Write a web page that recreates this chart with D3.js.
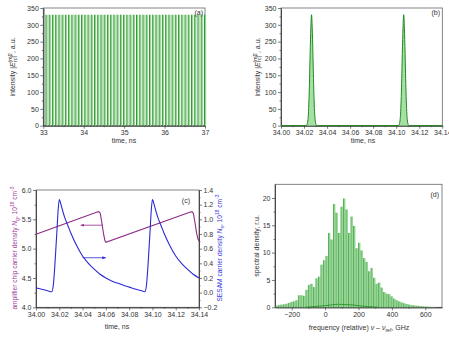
<!DOCTYPE html>
<html>
<head>
<meta charset="utf-8">
<script src="https://cdn.jsdelivr.net/npm/d3@7"></script>
<style>
  body { margin: 0; background: #fff; }
  svg text { font-family: "Liberation Sans", Arial, Helvetica, sans-serif; }
</style>
</head>
<body>
<svg width="449" height="337"></svg>
<script>
// (a) pulse train, peak times in ns
var trainTimes = [33.066, 33.146, 33.226, 33.306, 33.386, 33.466, 33.546, 33.626, 33.706, 33.786,
    33.866, 33.946, 34.026, 34.106, 34.186, 34.266, 34.346, 34.426, 34.506, 34.586,
    34.666, 34.746, 34.826, 34.906, 34.986, 35.066, 35.146, 35.226, 35.306, 35.386,
    35.466, 35.546, 35.626, 35.706, 35.786, 35.866, 35.946, 36.026, 36.106, 36.186,
    36.266, 36.346, 36.426, 36.506, 36.586, 36.666, 36.746, 36.826, 36.906, 36.986];
var trainPeak = 330;

// (b) two pulses, profile (offset in ns, intensity)
var zoomPulseTimes = [34.0265, 34.1065];
var pulseOffsets = [-0.005, -0.004, -0.003, -0.002, -0.0012, -0.0006, 0, 0.0006, 0.0012, 0.002, 0.003, 0.004, 0.005];
var pulseShape = [0, 3, 22, 100, 215, 290, 330, 290, 215, 100, 22, 3, 0];

// (c) carrier densities
var gainT = [34.000, 34.052, 34.054, 34.0552, 34.0565, 34.058, 34.0592, 34.060,
    34.132, 34.134, 34.1352, 34.1365, 34.138, 34.1392, 34.140];
var gainN = [5.245, 5.62, 5.63, 5.60, 5.45, 5.25, 5.14, 5.11,
    5.62, 5.63, 5.60, 5.45, 5.26, 5.16, 5.13];
var sesamT = [34.000, 34.005, 34.010, 34.0135, 34.015, 34.0165, 34.018, 34.019, 34.020, 34.0215,
    34.023, 34.025, 34.0275, 34.030, 34.035, 34.040, 34.045, 34.050, 34.055, 34.060,
    34.065, 34.070, 34.075, 34.080, 34.085, 34.090, 34.0935, 34.095, 34.0965, 34.098,
    34.099, 34.100, 34.1015, 34.103, 34.105, 34.1075, 34.110, 34.115, 34.120, 34.125,
    34.130, 34.135, 34.140];
var sesamN = [0.065, 0.045, 0.025, 0.012, 0.12, 0.45, 0.85, 1.12, 1.27, 1.2,
    1.11, 1.01, 0.91, 0.81, 0.64, 0.50, 0.40, 0.32, 0.25, 0.20,
    0.16, 0.13, 0.10, 0.075, 0.05, 0.03, 0.012, 0.12, 0.45, 0.85,
    1.12, 1.27, 1.2, 1.11, 1.01, 0.91, 0.81, 0.64, 0.50, 0.40,
    0.32, 0.25, 0.20];
// arrows: [t start, t end, value]
var gainArrow = [34.0575, 34.0385, 5.40];
var sesamArrow = [34.040, 34.060, 0.476];

// (d) spectrum lines
var specFreq = [-290, -275, -260, -245, -230, -215, -200, -185, -170, -155, -140, -125, -110, -95, -80, -65,
    -50, -35, -20, -5, 10, 25, 40, 55, 70, 85, 100, 115, 130, 145, 160, 175,
    190, 205, 220, 235, 250, 265, 280, 295, 310, 325, 340, 355, 370, 385, 400, 415,
    430, 445, 460, 475, 490, 505, 520, 535, 550, 565, 580, 595, 610, 625, 640, 655];
var specVal = [0.3, 0.4, 0.5, 0.55, 0.65, 0.8, 1.0, 1.1, 1.3, 2.2, 2.2, 2.1, 3.2, 4.1, 4.3, 3.7,
    5.3, 5.6, 7.8, 8.6, 9.4, 13.6, 12.4, 18.9, 17.3, 13.6, 18.4, 19.9, 17.9, 13.6, 16.6, 14.9,
    10.8, 11.8, 10.4, 9.0, 8.3, 6.6, 7.2, 5.4, 4.3, 4.5, 3.6, 2.8, 2.5, 2.4, 2.0, 1.6,
    1.3, 1.1, 0.9, 0.75, 0.6, 0.5, 0.4, 0.35, 0.3, 0.25, 0.2, 0.16, 0.12, 0.09, 0.06, 0.04];
var weakFreq = [-120, -60, 0, 40, 80, 120, 160, 200, 260, 320];
var weakVal = [0.0, 0.15, 0.3, 0.45, 0.55, 0.5, 0.45, 0.3, 0.12, 0.0];

var svg = d3.select("svg");
var dark = "#1f8a1f", light = "#8fd88f";
var purple = "#8e2a86", blue = "#2b2bd4";

function rich(sel, parts) {
    // parts: [text, kind] kind = undefined | 'i' | 'sup' | 'sub'
    var shift = 0;
    parts.forEach(function(p) {
        var t = sel.append('tspan').text(p[0]);
        var want = p[1] === 'sup' ? -2.6 : p[1] === 'sub' ? 1.6 : 0;
        if (want !== shift) t.attr('dy', want - shift);
        shift = want;
        if (p[1] === 'sup' || p[1] === 'sub') t.attr('font-size', 5);
        if (p[1] === 'i') t.style('font-style', 'italic');
        if (p[2]) t.attr('dx', p[2]);
    });
    return sel;
}

function frame(x, y, xTicks, xMinor, yTicks, yMinor, xFmt, yFmt) {
    var g = svg.append('g');
    var x0 = x.range()[0], x1 = x.range()[1], y0 = y.range()[0], y1 = y.range()[1];
    g.append('rect')
        .attr('x', x0).attr('y', y1)
        .attr('width', x1 - x0).attr('height', y0 - y1)
        .attr('fill', 'none').attr('stroke', '#666').attr('stroke-width', 0.8);
    g.append('g').attr('transform', 'translate(0,' + y0 + ')')
        .call(d3.axisBottom(x).tickValues(xTicks).tickSize(3).tickSizeOuter(0).tickPadding(1.5).tickFormat(xFmt));
    g.append('g').attr('transform', 'translate(0,' + y0 + ')')
        .call(d3.axisBottom(x).tickValues(xMinor).tickSize(1.5).tickSizeOuter(0).tickFormat(''));
    g.append('g').attr('transform', 'translate(' + x0 + ',0)')
        .call(d3.axisLeft(y).tickValues(yTicks).tickSize(3).tickSizeOuter(0).tickPadding(1.5).tickFormat(yFmt));
    g.append('g').attr('transform', 'translate(' + x0 + ',0)')
        .call(d3.axisLeft(y).tickValues(yMinor).tickSize(1.5).tickSizeOuter(0).tickFormat(''));
    g.selectAll('.domain').attr('stroke', '#444').attr('stroke-width', 0.8);
    g.selectAll('.tick line').attr('stroke', '#444').attr('stroke-width', 0.7);
    g.selectAll('.tick text').attr('font-size', 7).attr('fill', '#333')
        .attr('font-family', '"Liberation Sans", Arial, sans-serif');
    return g;
}

function panelText(x, y, str, anchor) {
    return svg.append('text').attr('x', x).attr('y', y)
        .attr('text-anchor', anchor || 'middle')
        .attr('font-size', 7).attr('fill', '#333').text(str);
}

function intensityLabel(x, y) {
    var t = svg.append('text').attr('transform', 'translate(' + x + ',' + y + ') rotate(-90)')
        .attr('text-anchor', 'middle').attr('font-size', 7).attr('fill', '#333');
    rich(t, [['intensity |'], ['E', 'i'], ['(m)', 'sup'], ['rc', 'sub', -7], ['|'], ['2', 'sup'], [', a.u.']]);
}

// ---------- (a)
var xa = d3.scaleLinear().domain([33, 37]).range([43.3, 205]);
var ya = d3.scaleLinear().domain([0, 350]).range([125.7, 8]);
frame(xa, ya, [33, 34, 35, 36, 37], [33.5, 34.5, 35.5, 36.5],
    d3.range(0, 351, 50), d3.range(25, 350, 50), d3.format('d'), d3.format('d'));
svg.append('g').selectAll('rect').data(trainTimes).enter().append('rect')
    .attr('x', function(d) { return xa(d) + 0.5; })
    .attr('y', ya(trainPeak))
    .attr('width', 1.2)
    .attr('height', ya(0) - ya(trainPeak))
    .attr('fill', light);
svg.append('g').selectAll('line').data(trainTimes).enter().append('line')
    .attr('x1', function(d) { return xa(d); }).attr('x2', function(d) { return xa(d); })
    .attr('y1', ya(0)).attr('y2', ya(trainPeak))
    .attr('stroke', dark).attr('stroke-width', 0.9);
panelText(203, 15, '(a)', 'end');
panelText(124, 143, 'time, ns');
intensityLabel(15, 67);

// ---------- (b)
var xb = d3.scaleLinear().domain([34.0, 34.14]).range([281, 442.3]);
var yb = d3.scaleLinear().domain([0, 350]).range([125.7, 8]);
frame(xb, yb, d3.range(0, 8).map(function(i) { return 34 + i * 0.02; }),
    d3.range(0, 7).map(function(i) { return 34.01 + i * 0.02; }),
    d3.range(0, 351, 50), d3.range(25, 350, 50), d3.format('.2f'), d3.format('d'));
var bPts = [[34.0, 0]];
zoomPulseTimes.forEach(function(c) {
    pulseOffsets.forEach(function(o, i) { bPts.push([c + o, pulseShape[i]]); });
});
bPts.push([34.14, 0]);
svg.append('path').datum(bPts)
    .attr('fill', light).attr('fill-opacity', 0.8)
    .attr('stroke', dark).attr('stroke-width', 1)
    .attr('d', d3.line().x(function(d) { return xb(d[0]); }).y(function(d) { return yb(d[1]); })
        .curve(d3.curveMonotoneX));
panelText(440, 15, '(b)', 'end');
panelText(363, 143, 'time, ns');
intensityLabel(259.5, 67);

// ---------- (c)
var xc = d3.scaleLinear().domain([34.0, 34.14]).range([36, 199]);
var ycL = d3.scaleLinear().domain([4.0, 6.0]).range([307.3, 190]);
var ycR = d3.scaleLinear().domain([-0.2, 1.4]).range([307.3, 190]);
var gc = frame(xc, ycL, d3.range(0, 8).map(function(i) { return 34 + i * 0.02; }),
    d3.range(0, 7).map(function(i) { return 34.01 + i * 0.02; }),
    [4.0, 4.5, 5.0, 5.5, 6.0], [4.25, 4.75, 5.25, 5.75], d3.format('.2f'), d3.format('.1f'));
gc.append('g').attr('transform', 'translate(199,0)')
    .call(d3.axisRight(ycR).tickValues([-0.2, 0, 0.2, 0.4, 0.6, 0.8, 1.0, 1.2, 1.4]).tickSize(3).tickSizeOuter(0).tickPadding(1.5)
        .tickFormat(d3.format('.1f')));
gc.append('g').attr('transform', 'translate(199,0)')
    .call(d3.axisRight(ycR).tickValues([-0.1, 0.1, 0.3, 0.5, 0.7, 0.9, 1.1, 1.3]).tickSize(1.5).tickSizeOuter(0).tickFormat(''));
gc.selectAll('.domain').attr('stroke', '#444').attr('stroke-width', 0.8);
gc.selectAll('.tick line').attr('stroke', '#444').attr('stroke-width', 0.7);
gc.selectAll('.tick text').attr('font-size', 7).attr('fill', '#333');

svg.append('path').datum(d3.zip(gainT, gainN))
    .attr('fill', 'none').attr('stroke', purple).attr('stroke-width', 1.1)
    .attr('d', d3.line().x(function(d) { return xc(d[0]); }).y(function(d) { return ycL(d[1]); }));
svg.append('path').datum(d3.zip(sesamT, sesamN))
    .attr('fill', 'none').attr('stroke', blue).attr('stroke-width', 1.1)
    .attr('d', d3.line().x(function(d) { return xc(d[0]); }).y(function(d) { return ycR(d[1]); }).curve(d3.curveMonotoneX));

var defs = svg.append('defs');
[['ahP', purple], ['ahB', blue]].forEach(function(m) {
    defs.append('marker').attr('id', m[0]).attr('viewBox', '0 0 10 10').attr('refX', 9).attr('refY', 5)
        .attr('markerWidth', 5).attr('markerHeight', 5).attr('orient', 'auto')
        .append('path').attr('d', 'M0,1.5L10,5L0,8.5Z').attr('fill', m[1]);
});
svg.append('line')
    .attr('x1', xc(gainArrow[0])).attr('x2', xc(gainArrow[1]))
    .attr('y1', ycL(gainArrow[2])).attr('y2', ycL(gainArrow[2]))
    .attr('stroke', purple).attr('stroke-width', 0.8).attr('marker-end', 'url(#ahP)');
svg.append('line')
    .attr('x1', xc(sesamArrow[0])).attr('x2', xc(sesamArrow[1]))
    .attr('y1', ycR(sesamArrow[2])).attr('y2', ycR(sesamArrow[2]))
    .attr('stroke', blue).attr('stroke-width', 0.8).attr('marker-end', 'url(#ahB)');
panelText(190, 202.5, '(c)', 'end');
panelText(117, 329, 'time, ns');
var lc = svg.append('text').attr('transform', 'translate(17,248) rotate(-90)')
    .attr('text-anchor', 'middle').attr('font-size', 6.6).attr('fill', '#a040a0');
rich(lc, [['amplifier chip carrier density '], ['N', 'i'], ['g', 'sub'], [', 10'], ['18', 'sup'], [' cm'], ['-3', 'sup']]);
var rc = svg.append('text').attr('transform', 'translate(222,248) rotate(-90)')
    .attr('text-anchor', 'middle').attr('font-size', 6.6).attr('fill', '#3636e0');
rich(rc, [['SESAM carrier density '], ['N', 'i'], ['s', 'sub'], [', 10'], ['18', 'sup'], [' cm'], ['-3', 'sup']]);

// ---------- (d)
var xd = d3.scaleLinear().domain([-300, 700]).range([275, 442]);
var yd = d3.scaleLinear().domain([0, 22.5]).range([307.3, 184.3]);
frame(xd, yd, [-200, 0, 200, 400, 600], [-100, 100, 300, 500],
    [0, 5, 10, 15, 20], [2.5, 7.5, 12.5, 17.5], d3.format('d'), d3.format('d'));
svg.append('g').selectAll('rect').data(specFreq).enter().append('rect')
    .attr('x', function(d) { return xd(d) - 0.5; })
    .attr('y', function(d, i) { return yd(specVal[i]); })
    .attr('width', 1.6)
    .attr('height', function(d, i) { return yd(0) - yd(specVal[i]); })
    .attr('fill', light);
svg.append('g').selectAll('line').data(specFreq).enter().append('line')
    .attr('x1', function(d) { return xd(d) - 0.8; }).attr('x2', function(d) { return xd(d) - 0.8; })
    .attr('y1', yd(0)).attr('y2', function(d, i) { return yd(specVal[i]); })
    .attr('stroke', dark).attr('stroke-width', 0.7);
svg.append('path').datum(d3.zip(weakFreq, weakVal))
    .attr('fill', 'none').attr('stroke', dark).attr('stroke-width', 0.8)
    .attr('d', d3.line().x(function(d) { return xd(d[0]); }).y(function(d) { return yd(d[1]); }).curve(d3.curveMonotoneX));
panelText(439, 196.5, '(d)', 'end');
var xl = svg.append('text').attr('x', 359).attr('y', 330).attr('text-anchor', 'middle')
    .attr('font-size', 7).attr('fill', '#333');
rich(xl, [['frequency (relative) '], ['\u03bd', 'i'], [' \u2013 '], ['\u03bd', 'i'], ['ref', 'sub'], [', GHz']]);
var yl = svg.append('text').attr('transform', 'translate(258.5,246) rotate(-90)')
    .attr('text-anchor', 'middle').attr('font-size', 7).attr('fill', '#333');
rich(yl, [['spectral density, r.u.']]);
</script>
</body>
</html>
